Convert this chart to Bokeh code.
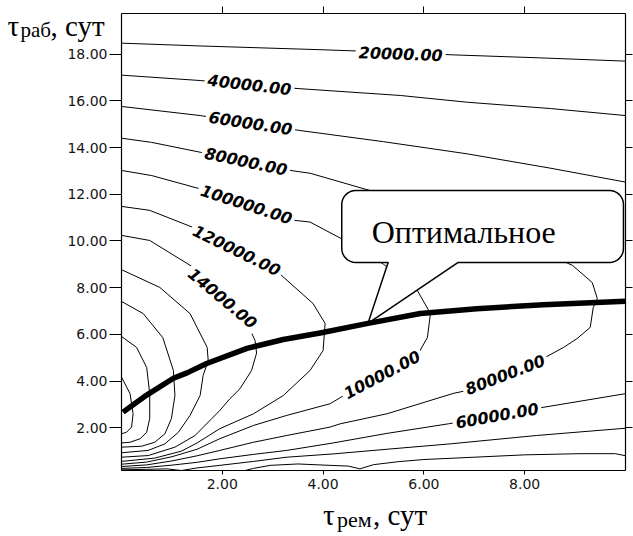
import numpy as np
from bokeh.plotting import figure
from bokeh.models import Range1d, FixedTicker, PrintfTickFormatter, LinearAxis, Label
from bokeh.embed import file_html
from bokeh.resources import INLINE

# ---------------- axes ----------------
x_ticks = [2, 4, 6, 8]
y_ticks = [2, 4, 6, 8, 10, 12, 14, 16, 18]
x_lim = (0.0, 10.0)
y_lim = (0.17, 19.74)

# ---------------- contour lines ----------------
c20000_top_x = [0.0, 1.56, 3.94, 5.53, 6.56, 8.31, 10.0]
c20000_top_y = [18.47, 18.35, 18.19, 18.07, 17.97, 17.84, 17.70]

c40000_top_x = [0.0, 1.56, 2.54, 3.54, 5.53, 6.86, 8.51, 10.0]
c40000_top_y = [17.10, 16.87, 16.70, 16.52, 16.23, 15.94, 15.67, 15.37]

c60000_top_x = [0.0, 1.56, 2.56, 3.54, 5.2, 6.86, 8.5, 10.0]
c60000_top_y = [15.76, 15.37, 15.05, 14.73, 14.25, 13.73, 13.12, 12.52]

c80000_x = [0.0, 0.6, 1.56, 2.47, 3.41, 3.74, 4.93, 6.5, 8.0, 8.95, 9.34, 9.44, 9.36, 9.30,
            9.04, 8.77, 8.37, 7.61, 6.86, 6.58, 5.27, 4.34, 4.14, 3.28, 2.62, 1.95, 1.5,
            1.0, 0.5, 0.0]
c80000_y = [14.40, 14.22, 13.80, 13.41, 13.0, 12.9, 12.16, 11.0, 9.9, 8.95, 8.22, 7.54, 7.15,
            6.30, 5.82, 5.44, 4.97, 4.28, 3.60, 3.47, 2.60, 2.17, 2.03, 1.67, 1.38, 1.03,
            0.80, 0.58, 0.41, 0.34]

c100000_x = [0.0, 0.6, 1.56, 2.48, 3.44, 3.74, 4.37, 5.2, 5.87, 6.13, 6.07, 5.87, 5.17,
             4.47, 4.14, 3.28, 2.62, 1.95, 1.5, 1.0, 0.5, 0.0]
c100000_y = [13.02, 12.80, 12.23, 11.57, 10.88, 10.81, 10.09, 9.0, 7.88, 6.89, 5.87, 5.10,
             4.28, 3.46, 3.03, 2.53, 2.10, 1.53, 1.08, 0.76, 0.53, 0.44]

c120000_x = [0.0, 0.56, 1.49, 2.29, 3.11, 3.80, 4.04, 4.0, 3.74, 3.21, 2.62, 1.95, 1.5,
             1.19, 0.66, 0.0]
c120000_y = [11.48, 11.31, 10.52, 9.60, 8.65, 7.32, 6.47, 5.31, 4.45, 3.38, 2.60, 1.96, 1.35,
             1.0, 0.70, 0.56]

c140000_x = [0.0, 0.56, 1.42, 2.01, 2.49, 2.65, 2.68, 2.58, 2.35, 2.15, 1.95, 1.79, 1.46,
             1.06, 0.53, 0.0]
c140000_y = [10.24, 10.02, 8.88, 7.55, 6.47, 5.74, 5.20, 4.45, 3.67, 3.24, 2.74, 2.39, 1.67,
             1.17, 0.81, 0.74]

c160000_x = [0.0, 0.76, 1.36, 1.70, 1.72, 1.62, 1.56, 1.36, 1.13, 0.86, 0.53, 0.0]
c160000_y = [8.77, 8.01, 6.89, 5.44, 4.88, 4.24, 3.38, 2.53, 1.81, 1.31, 1.03, 0.93]

c180000_x = [0.0, 0.43, 0.82, 1.03, 1.06, 0.99, 0.86, 0.66, 0.40, 0.0]
c180000_y = [7.41, 6.89, 5.86, 4.45, 3.38, 2.39, 1.74, 1.38, 1.21, 1.17]

c200000_x = [0.0, 0.30, 0.50, 0.56, 0.56, 0.50, 0.37, 0.17, 0.0]
c200000_y = [5.91, 5.44, 4.58, 3.47, 2.40, 1.81, 1.53, 1.38, 1.35]

c220000_x = [0.0, 0.17, 0.23, 0.20, 0.10, 0.0]
c220000_y = [4.17, 3.46, 2.60, 2.03, 1.81, 1.74]

c60000_low_x = [10.0, 8.38, 7.45, 6.49, 5.27, 4.2, 3.28, 2.62, 1.95, 1.5, 1.0, 0.5, 0.0]
c60000_low_y = [3.46, 2.88, 2.53, 2.17, 1.76, 1.35, 1.03, 0.86, 0.67, 0.52, 0.40, 0.30, 0.26]

c40000_low_x = [10.0, 8.24, 6.52, 5.27, 4.2, 3.28, 2.62, 1.95, 1.5, 1.19, 0.9, 0.5, 0.0]
c40000_low_y = [1.98, 1.67, 1.31, 1.08, 0.88, 0.74, 0.56, 0.39, 0.28, 0.17, 0.24, 0.22, 0.20]

c20000_low_x = [10.0, 9.8, 9.1, 8.0, 7.0, 6.0, 5.5, 5.0, 4.73, 4.5, 4.14, 3.5, 2.95, 2.62, 2.45]
c20000_low_y = [0.80, 0.89, 0.89, 0.84, 0.74, 0.64, 0.55, 0.42, 0.24, 0.36, 0.39, 0.45, 0.39,
                0.26, 0.17]

# optimal (thick) line
opt_x = [0.03, 0.5, 1.03, 1.3, 1.69, 2.49, 3.21, 3.94, 4.89, 5.93, 7.05, 8.37, 10.0]
opt_y = [2.67, 3.40, 4.12, 4.35, 4.75, 5.40, 5.78, 6.06, 6.47, 6.89, 7.10, 7.27, 7.42]

# contour labels
lab_text = ["20000.00", "40000.00", "60000.00", "80000.00", "100000.00", "120000.00",
            "14000.00", "10000.00", "80000.00", "60000.00"]
lab_x = [5.54, 2.54, 2.56, 2.47, 2.48, 2.29, 2.01, 5.17, 7.61, 7.45]
lab_y = [18.02, 16.70, 15.05, 13.41, 11.57, 9.60, 7.55, 4.28, 4.28, 2.53]
lab_angle = [-2, -6.6, -8.7, -12, -18, -26, -40, 28, 21, 10]

# callout
callout_text = "Оптимальное"
callout_box = (4.37, 9.96, 9.08, 12.16)   # x0, x1, y0, y1
callout_base = (5.29, 6.68)
callout_tip_x = 4.89

# ---------------- figure ----------------
W, H = 633, 536
BL, BR, BT, BB = 121, 8, 13, 66          # pixel position of the plot box in the page
kx = (W - BL - BR) / (x_lim[1] - x_lim[0])
ky = (H - BT - BB) / (y_lim[1] - y_lim[0])
full_x = (x_lim[0] - BL / kx, x_lim[1] + BR / kx)
full_y = (y_lim[0] - BB / ky, y_lim[1] + BT / ky)

p = figure(width=W, height=H, x_range=Range1d(*full_x), y_range=Range1d(*full_y),
           min_border=0, min_border_left=0, min_border_right=0, min_border_top=0,
           min_border_bottom=0, output_backend="svg", toolbar_location=None,
           x_axis_location=None, y_axis_location=None)
p.grid.visible = False
p.outline_line_color = None
p.background_fill_color = "white"
p.border_fill_color = "white"


def make_axis(ticks, side, tick_out, show_labels, loc, bounds):
    ax = LinearAxis(ticker=FixedTicker(ticks=ticks),
                    formatter=PrintfTickFormatter(format="%.2f"),
                    fixed_location=loc, bounds=bounds)
    ax.axis_line_color = "black"
    ax.axis_line_width = 1.2
    ax.major_tick_line_color = "black"
    ax.major_tick_in = 0
    ax.major_tick_out = tick_out
    ax.minor_tick_line_color = None
    if show_labels:
        ax.major_label_text_font = "DejaVu Sans"
        ax.major_label_text_font_size = "14px"
        ax.major_label_text_color = "#151515"
    else:
        ax.major_label_text_color = None
    p.add_layout(ax, side)
    return ax


ax_b = make_axis(x_ticks, "below", 4, True, y_lim[0], x_lim)
ax_b.major_label_standoff = 4
ax_l = make_axis(y_ticks, "left", 12, True, x_lim[0], y_lim)
ax_l.major_label_standoff = 2
make_axis(x_ticks, "above", 7, False, y_lim[1], x_lim)
make_axis(y_ticks, "right", 7, False, x_lim[1], y_lim)

# contours
cxs = [c20000_top_x, c40000_top_x, c60000_top_x, c80000_x, c100000_x, c120000_x, c140000_x,
       c160000_x, c180000_x, c200000_x, c220000_x, c60000_low_x, c40000_low_x, c20000_low_x]
cys = [c20000_top_y, c40000_top_y, c60000_top_y, c80000_y, c100000_y, c120000_y, c140000_y,
       c160000_y, c180000_y, c200000_y, c220000_y, c60000_low_y, c40000_low_y, c20000_low_y]
p.multi_line(cxs, cys, line_color="black", line_width=1.0, line_join="round")

# contour labels
for t, x, y, a in zip(lab_text, lab_x, lab_y, lab_angle):
    p.add_layout(Label(x=x, y=y, text=t, angle=a, angle_units="deg", text_align="center",
                       text_baseline="middle", text_font="DejaVu Sans",
                       text_font_style="bold italic", text_font_size="16px",
                       text_color="black", background_fill_color="white", padding=3))

# callout bubble
x0, x1, y0, y1 = callout_box
xa, xb = callout_base
tip_y = float(np.interp(callout_tip_x, opt_x, opt_y))
r = 14.0
rx, ry = r / kx, r / ky
bx, by = [], []


def arc(cx, cy, a0, a1):
    for a in np.linspace(np.radians(a0), np.radians(a1), 9):
        bx.append(cx + rx * np.cos(a))
        by.append(cy + ry * np.sin(a))


arc(x0 + rx, y0 + ry, 180, 270)
bx += [xa, callout_tip_x, xb]
by += [y0, tip_y, y0]
arc(x1 - rx, y0 + ry, 270, 360)
arc(x1 - rx, y1 - ry, 0, 90)
arc(x0 + rx, y1 - ry, 90, 180)
p.patch(bx, by, fill_color="white", line_color="black", line_width=1.5, line_join="round")

# optimal line
p.line(opt_x, opt_y, line_color="black", line_width=5.5, line_cap="butt", line_join="round")

p.add_layout(Label(x=6.79, y=10.38, text=callout_text, text_align="center",
                   text_baseline="alphabetic", text_font="Liberation Serif",
                   text_font_size="32px", text_color="black"))

# axis titles
serif = "Liberation Serif"
for txt, xo, yo, fs in [("τ", -114, -12, "29px"), ("раб", -101, -16, "21px"),
                        (", сут", -71, -12, "29px")]:
    p.add_layout(Label(x=x_lim[0], y=y_lim[1], x_offset=xo, y_offset=yo, text=txt,
                       text_align="left", text_baseline="alphabetic", text_font=serif,
                       text_font_size=fs, text_color="black"))
for txt, xo, yo, fs in [("τ", 0, -44, "29px"), ("рем", 14, -49, "22px"),
                        (", сут", 50, -44, "29px")]:
    p.add_layout(Label(x=4.0, y=y_lim[0], x_offset=xo, y_offset=yo, text=txt,
                       text_align="left", text_baseline="middle", text_font=serif,
                       text_font_size=fs, text_color="black"))

open("out.html", "w").write(file_html(p, INLINE))
